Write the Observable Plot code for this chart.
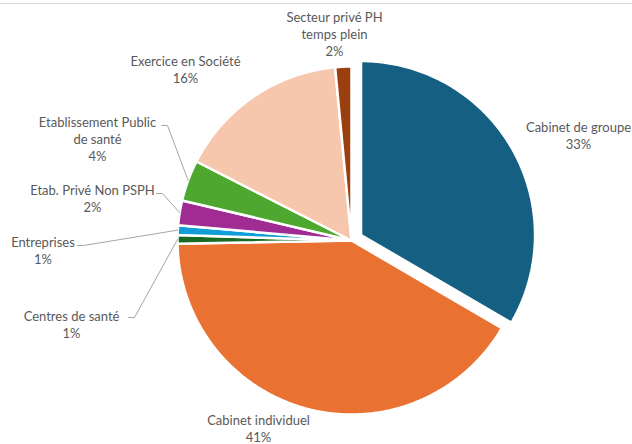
<!DOCTYPE html>
<html><head><meta charset="utf-8">
<script src="https://cdn.jsdelivr.net/npm/d3@7"></script>
<script src="https://cdn.jsdelivr.net/npm/@observablehq/plot@0.6"></script>
<style>
body{margin:0;background:#fff;overflow:hidden}
#chart{position:absolute;left:0;top:0}
#frame{position:absolute;left:0;top:3px;width:632px;border-top:1px solid #d9d9d9}
</style></head><body>
<div id="chart"></div><div id="frame"></div>
<script>
// ---- data ----
const categories = ["Cabinet de groupe", "Cabinet individuel", "Centres de santé", "Entreprises", "Etab. Privé Non PSPH", "Etablissement Public de santé", "Exercice en Société", "Secteur privé PH temps plein"];
const shares = [33.4, 41.3, 0.8, 0.9, 2.3, 3.8, 16.0, 1.5];
const percentLabels = ["33%", "41%", "1%", "1%", "2%", "4%", "16%", "2%"];
const labelText = ["Cabinet de groupe", "Cabinet individuel", "Centres de santé", "Entreprises", "Etab. Privé Non PSPH", "Etablissement Public\nde santé", "Exercice en Société", "Secteur privé PH\ntemps plein"];
const colors = ["#156082", "#E97132", "#196B24", "#0F9ED5", "#A02B93", "#4EA72E", "#F6C6AD", "#9A4010"];

// ---- layout ----
const W = 632, H = 444, CX = 351, CY = 240, R = 174;
const ux = px => (px - CX) / R, uy = py => (CY - py) / R;
const explode = {"Cabinet de groupe": 11 / R};
const labelPos = [[578,135],[258,427.5],[71,324],[42.5,250],[92,198],[97,138],[185,68.5],[334,33]];
const leaderStart = {"Etablissement Public de santé": [161,125], "Etab. Privé Non PSPH": [156,193], "Entreprises": [77,245], "Centres de santé": [128,317]};

let acc = 0;
const slices = categories.map((name, i) => {
  const s = acc / 100 * 2 * Math.PI; acc += shares[i];
  const e = acc / 100 * 2 * Math.PI;
  return {name, start: s, end: e, mid: (s + e) / 2};
});
const piePts = slices.flatMap(sl => {
  const off = explode[sl.name] || 0;
  const ox = off * Math.sin(sl.mid), oy = off * Math.cos(sl.mid);
  const n = Math.max(2, Math.ceil((sl.end - sl.start) / (Math.PI / 360)));
  const pts = [{name: sl.name, x: ox, y: oy}];
  for (let k = 0; k <= n; k++) {
    const a = sl.start + (sl.end - sl.start) * k / n;
    pts.push({name: sl.name, x: ox + Math.sin(a), y: oy + Math.cos(a)});
  }
  return pts;
});
const leaderPts = slices.filter(sl => leaderStart[sl.name]).flatMap(sl => {
  const [sx, sy] = leaderStart[sl.name];
  return [
    {name: sl.name, x: ux(sx), y: uy(sy)},
    {name: sl.name, x: ux(sx + 6), y: uy(sy)},
    {name: sl.name, x: Math.sin(sl.mid), y: Math.cos(sl.mid)}
  ];
});
const labels = categories.map((name, i) => ({
  name, x: ux(labelPos[i][0]), y: uy(labelPos[i][1]),
  text: labelText[i] + "\n" + percentLabels[i]
}));

const chart = Plot.plot({
  width: W, height: H, margin: 0,
  x: {domain: [ux(0), ux(W)], axis: null},
  y: {domain: [uy(H), uy(0)], axis: null},
  color: {domain: categories, range: colors},
  style: {fontFamily: "Lato, sans-serif", background: "transparent"},
  marks: [
    Plot.line(piePts, {x: "x", y: "y", z: "name", fill: "name", stroke: "white", strokeWidth: 2.5, curve: "linear-closed", strokeLinejoin: "miter"}),
    Plot.line(leaderPts, {x: "x", y: "y", z: "name", stroke: "#a6a6a6", strokeWidth: 1, curve: "linear"}),
    Plot.text(labels, {x: "x", y: "y", text: "text", fill: "#595959", fontSize: 13, lineHeight: 1.31, fontFamily: "Lato, sans-serif"})
  ]
});
document.getElementById("chart").appendChild(chart);
</script>
</body></html>
